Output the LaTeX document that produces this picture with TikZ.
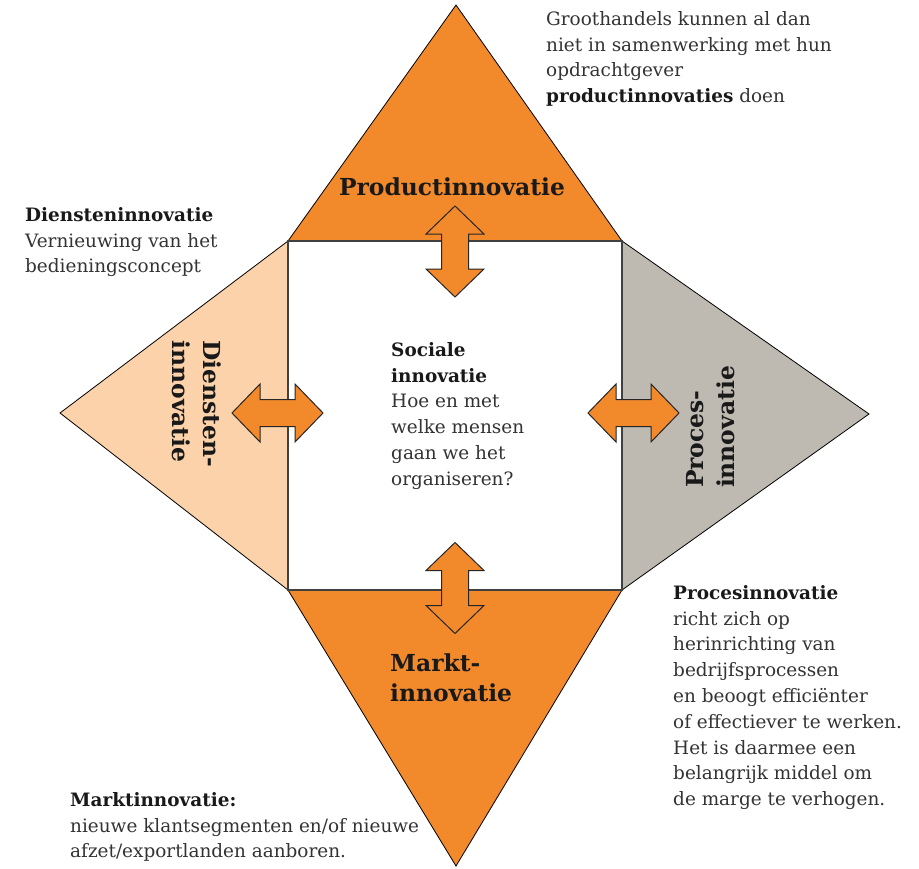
\documentclass[tikz,border=0pt]{standalone}
\usepackage{fontspec}
\setmainfont{DejaVu Serif}
\usetikzlibrary{positioning}
\definecolor{innoorange}{HTML}{F28A2C}
\definecolor{innopeach}{HTML}{FCD2AA}
\definecolor{innogray}{HTML}{BEB9B1}
\definecolor{innotext}{HTML}{333333}
\tikzset{
  triangle/.style={draw=black,line width=0.8bp,line join=miter},
  squarebox/.style={draw=black!75,line width=1.3bp,fill=white},
  bigtitle/.style={font=\fontsize{23.5}{31}\selectfont\bfseries,text=black!90,inner sep=0pt,align=left},
  notetext/.style={font=\fontsize{18.5}{25.9}\selectfont,text=innotext,inner sep=0pt,align=left,anchor=north west},
  pics/blockarrow/.style={code={
    \filldraw[fill=innoorange,draw=black!85,line width=1bp,line join=miter]
      (-45.5,0) -- (-17.5,-29) -- (-17.5,-13.5) -- (17.5,-13.5) -- (17.5,-29) -- (45.5,0)
      -- (17.5,29) -- (17.5,13.5) -- (-17.5,13.5) -- (-17.5,29) -- cycle;}},
}
\newcommand{\headline}[1]{{\color{black!90}\bfseries #1}}
\begin{document}
\begin{tikzpicture}[x=1bp,y=-1bp]
\useasboundingbox (0,0) rectangle (919,869);
%% corners
\coordinate (sqnw) at (288,241);
\coordinate (sqne) at (622,241);
\coordinate (sqse) at (622,590);
\coordinate (sqsw) at (288,590);
\coordinate (topapex) at (456,5);
\coordinate (leftapex) at (60,413);
\coordinate (rightapex) at (869,414);
\coordinate (bottomapex) at (456,866);
%% triangles and square
\filldraw[triangle,fill=innoorange] (sqnw) -- (topapex) -- (sqne) -- cycle;
\filldraw[triangle,fill=innopeach] (sqnw) -- (leftapex) -- (sqsw) -- cycle;
\filldraw[triangle,fill=innogray] (sqne) -- (rightapex) -- (sqse) -- cycle;
\filldraw[triangle,fill=innoorange] (sqsw) -- (bottomapex) -- (sqse) -- cycle;
\draw[squarebox] (sqnw) rectangle (sqse);
%% arrows
\pic[rotate=90] at (455,251.5) {blockarrow};
\pic[rotate=90] at (455,588) {blockarrow};
\pic at (277.5,413) {blockarrow};
\pic at (633.5,413) {blockarrow};
%% titles
\node[bigtitle] (product) at (452,187) {Productinnovatie};
\node[bigtitle,rotate=-90] (diensten) at (197,404) {Diensten-\\innovatie};
\node[bigtitle,rotate=90] (proces) at (711,427) {Proces-\\innovatie};
\node[bigtitle,anchor=north west,font=\fontsize{23.5}{29.5}\selectfont\bfseries] (markt) at (390,654) {Markt-\\innovatie};
%% notes
\node[notetext] (noteproduct) at (546,11) {Groothandels kunnen al dan\\niet in samenwerking met hun\\opdrachtgever\\\headline{productinnovaties} doen};
\node[notetext] (notediensten) at (25,207) {\headline{Diensteninnovatie}\\Vernieuwing van het\\bedieningsconcept};
\node[notetext] (notesociaal) at (391,342) {\headline{Sociale}\\\headline{innovatie}\\Hoe en met\\welke mensen\\gaan we het\\organiseren?};
\node[notetext] (noteproces) at (673,585) {\headline{Procesinnovatie}\\richt zich op\\herinrichting van\\bedrijfsprocessen\\en beoogt efficiënter\\of effectiever te werken.\\Het is daarmee een\\belangrijk middel om\\de marge te verhogen.};
\node[notetext] (notemarkt) at (70,792) {\headline{Marktinnovatie:}\\nieuwe klantsegmenten en/of nieuwe\\afzet/exportlanden aanboren.};
\end{tikzpicture}
\end{document}
